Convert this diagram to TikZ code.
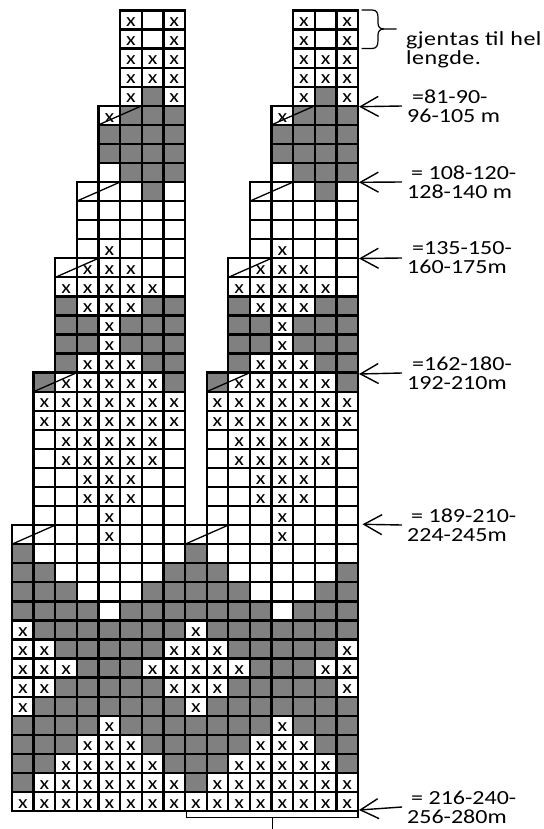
\documentclass[tikz,border=0pt]{standalone}
\usepackage{fontspec}
\usetikzlibrary{arrows.meta}
\newfontfamily\labelfont[FakeStretch=1.2]{Carlito}
\newfontfamily\spacedfont[FakeStretch=1.2,LetterSpace=2.5]{Carlito}
\definecolor{cellgrey}{HTML}{808080}
\tikzset{
	gridline/.style={draw=black, line width=2.3pt},
	slashline/.style={draw=black, line width=1.3pt},
	crossmark/.style={anchor=base, inner sep=0pt, font=\labelfont\fontsize{18.5}{18}\selectfont},
	sizelabel/.style={anchor=west, inner ysep=0pt, inner xsep=5pt, align=left, font=\labelfont\fontsize{20}{19}\selectfont},
	pointer/.style={draw=black, line width=1.4pt, -{Straight Barb[length=18pt,width=20pt]}}
}

\begin{document}
\begin{tikzpicture}[x=1pt,y=-1pt]
	\useasboundingbox (0,0) rectangle (543,829);
	% both charts are the same, eight columns apart
	\foreach \shift in {0,8} {
		\begin{scope}[shift={(12,10.5)},xshift=\shift*21.63pt,x=21.63pt,y=-19.06pt]
			\foreach \rownr/\firstcol/\greys/\crosses in {
				0/5/{}/{5,7},
				1/5/{}/{5,7},
				2/5/{}/{5,6,7},
				3/5/{}/{5,6,7},
				4/5/{6}/{5,7},
				5/4/{5,6,7}/{4},
				6/4/{4,5,6,7}/{},
				7/4/{4,5,6,7}/{},
				8/4/{5,6,7}/{},
				9/3/{6}/{},
				10/3/{}/{},
				11/3/{}/{},
				12/3/{}/{4},
				13/2/{}/{3,4,5},
				14/2/{}/{2,3,4,5,6},
				15/2/{2,6,7}/{3,4,5},
				16/2/{2,3,5,6,7}/{4},
				17/2/{2,3,5,6,7}/{4},
				18/2/{2,6,7}/{3,4,5},
				19/1/{1,7}/{2,3,4,5,6},
				20/1/{}/{1,2,3,4,5,6,7},
				21/1/{}/{1,2,3,4,5,6,7},
				22/1/{}/{2,3,4,5,6},
				23/1/{}/{2,3,4,5,6},
				24/1/{}/{3,4,5},
				25/1/{}/{3,4,5},
				26/1/{}/{4},
				27/0/{}/{4},
				28/0/{0}/{},
				29/0/{0,1,7}/{},
				30/0/{0,1,2,6,7}/{},
				31/0/{0,1,2,3,5,6,7}/{},
				32/0/{1,2,3,4,5,6,7}/{0},
				33/0/{2,3,4,5,6}/{0,1,7},
				34/0/{3,4,5}/{0,1,2,6,7},
				35/0/{2,3,4,5,6}/{0,1,7},
				36/0/{1,2,3,4,5,6,7}/{0},
				37/0/{0,1,2,3,5,6,7}/{4},
				38/0/{0,1,2,6,7}/{3,4,5},
				39/0/{0,1,7}/{2,3,4,5,6},
				40/0/{0}/{1,2,3,4,5,6,7},
				41/0/{}/{0,1,2,3,4,5,6,7}} {
				\foreach \c in \greys
					\fill[cellgrey] (\c,\rownr) rectangle ++(1,1);
				\foreach \c in {\firstcol,...,7}
					\draw[gridline] (\c,\rownr) rectangle ++(1,1);
				\foreach \c in \crosses
					\node[crossmark] (x\shift-\rownr-\c) at (\c+0.5,\rownr+0.85) {x};
			}
			\foreach \rownr/\firstcol in {5/4,9/3,13/2,19/1,27/0}
				\draw[slashline] (\firstcol,\rownr+1) -- (\firstcol+2,\rownr);
		\end{scope}
	}
	% brace and bracket
	\draw[line width=1.2pt] (361.5,10) -- (372,10) .. controls (377,10) and (378,13) .. (378,18) -- (378,23) .. controls (378,27) and (380,29) .. (384,29) -- (396.5,29);
	\draw[line width=1.2pt] (361.5,48.5) -- (372,48.5) .. controls (377,48.5) and (378,45) .. (378,40) -- (378,35) .. controls (378,31) and (380,29) .. (384,29);
	\draw[line width=1.2pt] (186.5,811) -- (186.5,817.5) -- (358,817.5) -- (358,811);
	\draw[line width=1.2pt] (272.5,817.5) -- (272.5,829);
	% labels
	\node[sizelabel,font=\spacedfont\fontsize{20}{19}\selectfont] (lab-repeat) at (401,50) {gjentas til hel\\lengde.};
	\node[sizelabel] (lab-81) at (402,106) {\hspace*{5pt}=81-90-\\96-105 m};
	\node[sizelabel] (lab-108) at (402,182) {\hspace*{4pt}= 108-120-\\128-140 m};
	\node[sizelabel] (lab-135) at (402,258) {\hspace*{5pt}=135-150-\\160-175m};
	\node[sizelabel] (lab-162) at (402,373) {\hspace*{5pt}=162-180-\\192-210m};
	\node[sizelabel] (lab-189) at (402,525) {\hspace*{4pt}= 189-210-\\224-245m};
	\node[sizelabel] (lab-216) at (402,807) {\hspace*{4pt}= 216-240-\\256-280m};
	\coordinate (tip-81) at (359,106.7);
	\coordinate (tip-108) at (359,182.3);
	\coordinate (tip-135) at (359,258.5);
	\coordinate (tip-162) at (359,374);
	\coordinate (tip-189) at (362.5,524.3);
	\coordinate (tip-216) at (359,810);
	\foreach \lab in {81,108,135,162,189,216}
		\draw[pointer] (lab-\lab.west) -- (tip-\lab);
\end{tikzpicture}
\end{document}
